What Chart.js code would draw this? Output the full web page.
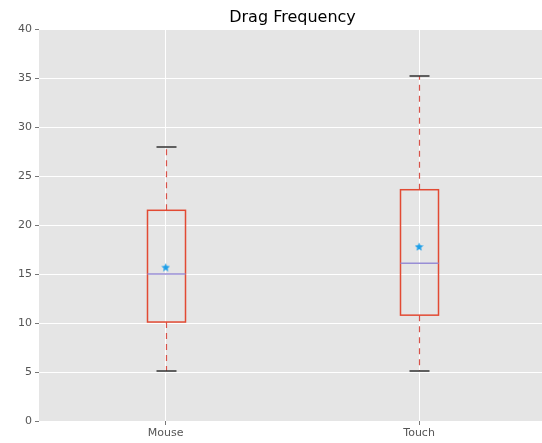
<!DOCTYPE html>
<html>
<head>
<meta charset="utf-8">
<script src="https://cdn.jsdelivr.net/npm/chart.js@4/dist/chart.umd.min.js"></script>
<style>
  html, body { margin: 0; padding: 0; background: #fff; }
  #wrap { width: 542px; height: 443px; }
</style>
</head>
<body>
<div id="wrap"><canvas id="dragChart"></canvas></div>
<script>
    // Dados do boxplot
    const categories = ['Mouse', 'Touch'];
    const whiskerLow = [5.1, 5.1];
    const q1 = [10.1, 10.8];
    const median = [15.0, 16.1];
    const q3 = [21.5, 23.6];
    const whiskerHigh = [28.0, 35.2];
    const means = [15.7, 17.8];
    const yTicks = [0, 5, 10, 15, 20, 25, 30, 35, 40];

    // Estrela de 5 pontas para a média (estilo matplotlib '*')
    function makeStar(size, color) {
      const c = document.createElement('canvas');
      c.width = size; c.height = size;
      const g = c.getContext('2d');
      const r = size / 2, ri = r * 0.45;
      g.fillStyle = color;
      g.beginPath();
      for (let k = 0; k < 10; k++) {
        const rad = k % 2 === 0 ? r : ri;
        const ang = -Math.PI / 2 + k * Math.PI / 5;
        const px = r + rad * Math.cos(ang), py = r + rad * Math.sin(ang) + 0.5;
        if (k === 0) g.moveTo(px, py); else g.lineTo(px, py);
      }
      g.closePath();
      g.fill();
      return c;
    }

    // Fundo cinza da área do gráfico + título centrado na área
    const ggBackground = {
      id: 'ggBackground',
      beforeDraw(chart) {
        const { ctx, chartArea: a } = chart;
        ctx.save();
        ctx.fillStyle = '#E5E5E5';
        ctx.fillRect(a.left, a.top, a.right - a.left, a.bottom - a.top);
        ctx.restore();
      },
      afterDraw(chart) {
        const { ctx, chartArea: a } = chart;
        ctx.save();
        ctx.fillStyle = '#000';
        ctx.font = '16px "DejaVu Sans"';
        ctx.textAlign = 'center';
        ctx.textBaseline = 'alphabetic';
        ctx.fillText('Drag Frequency', (a.left + a.right) / 2 + 2, 22);
        ctx.restore();
      }
    };

    // Desenha caixas, bigodes e medianas usando as escalas do Chart.js
    const boxPlot = {
      id: 'boxPlot',
      beforeDatasetsDraw(chart) {
        const { ctx } = chart;
        const x = chart.scales.x, y = chart.scales.y;
        const halfBox = 19, halfCap = 10;
        ctx.save();
        categories.forEach((c, i) => {
          const cx = Math.round(x.getPixelForValue(i)) + 0.5;
          // bigodes tracejados
          ctx.strokeStyle = '#D9534A';
          ctx.lineWidth = 1.2;
          ctx.setLineDash([6, 5]);
          ctx.beginPath();
          ctx.moveTo(cx, y.getPixelForValue(q3[i]));
          ctx.lineTo(cx, y.getPixelForValue(whiskerHigh[i]));
          ctx.moveTo(cx, y.getPixelForValue(q1[i]));
          ctx.lineTo(cx, y.getPixelForValue(whiskerLow[i]));
          ctx.stroke();
          ctx.setLineDash([]);
          // extremidades
          ctx.strokeStyle = '#333';
          ctx.lineWidth = 1.5;
          ctx.beginPath();
          [whiskerHigh[i], whiskerLow[i]].forEach(v => {
            const py = Math.round(y.getPixelForValue(v));
            ctx.moveTo(cx - halfCap, py);
            ctx.lineTo(cx + halfCap, py);
          });
          ctx.stroke();
          // caixa
          const top = y.getPixelForValue(q3[i]);
          const bot = y.getPixelForValue(q1[i]);
          ctx.strokeStyle = '#E24A33';
          ctx.lineWidth = 1.5;
          ctx.strokeRect(cx - halfBox, top, halfBox * 2, bot - top);
          // mediana
          const my = y.getPixelForValue(median[i]);
          ctx.strokeStyle = '#988ED5';
          ctx.lineWidth = 1.5;
          ctx.beginPath();
          ctx.moveTo(cx - halfBox, my);
          ctx.lineTo(cx + halfBox, my);
          ctx.stroke();
        });
        ctx.restore();
      }
    };

    const ctx = document.getElementById('dragChart').getContext('2d');
    const dragChart = new Chart(ctx, {
      type: 'scatter',
      data: {
        labels: categories,
        datasets: [
          {
            label: 'Média',
            data: means.map((m, i) => ({ x: i, y: m })),
            pointStyle: makeStar(9, '#1E9FE8'),
            radius: 4.5
          }
        ]
      },
      options: {
        responsive: true,
        maintainAspectRatio: false,
        animation: false,
        layout: { autoPadding: false, padding: { top: 29, right: 0, left: 0, bottom: 0 } },
        plugins: {
          legend: { display: false },
          tooltip: { enabled: false },
          title: { display: false }
        },
        scales: {
          x: {
            type: 'linear',
            min: -0.5,
            max: 1.485,
            afterBuildTicks(scale) {
              scale.ticks = categories.map((c, i) => ({ value: i }));
            },
            afterFit(scale) { scale.height = 22; },
            ticks: {
              callback: (v) => categories[v],
              color: '#555',
              font: { family: 'DejaVu Sans', size: 11 },
              padding: 2,
              maxRotation: 0,
              autoSkip: false
            },
            grid: {
              color: '#FFFFFF',
              lineWidth: 1,
              tickColor: '#777',
              tickLength: 4,
              z: 0
            },
            border: { display: false }
          },
          y: {
            min: 0,
            max: 40,
            afterBuildTicks(scale) {
              scale.ticks = yTicks.map(v => ({ value: v }));
            },
            afterFit(scale) { scale.width = 39; },
            ticks: {
              color: '#555',
              font: { family: 'DejaVu Sans', size: 11 },
              padding: 3
            },
            grid: {
              color: '#FFFFFF',
              lineWidth: 1,
              tickColor: '#777',
              tickLength: 4
            },
            border: { display: false }
          }
        }
      },
      plugins: [ggBackground, boxPlot]
    });
</script>
</body>
</html>
